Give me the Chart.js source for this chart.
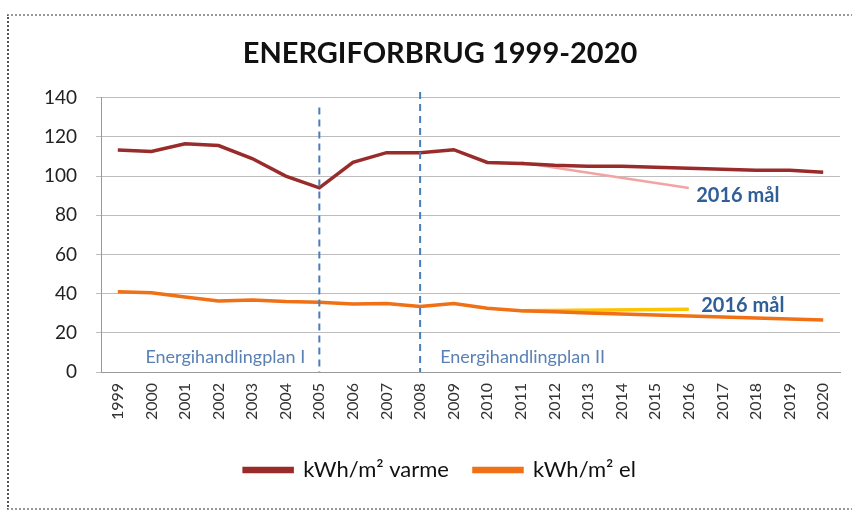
<!DOCTYPE html>
<html>
<head>
<meta charset="utf-8">
<script src="https://cdn.jsdelivr.net/npm/chart.js@4"></script>
<style>
  html, body { margin: 0; padding: 0; background: #fff; }
  #wrap { position: relative; width: 852px; height: 510px; }
  #frame { position: absolute; left: 7px; top: 14px; width: 860px; height: 492px;
           border-left: 2px dotted #555; border-top: 2px dotted #999; border-bottom: 2px dotted #999; }
  canvas { position: absolute; left: 0; top: 0; }
</style>
</head>
<body>
<div id="wrap">
  <div id="frame"></div>
  <canvas id="energyChart" width="852" height="510"></canvas>
</div>
<script>
// Data
const years = ['1999', '2000', '2001', '2002', '2003', '2004', '2005', '2006', '2007', '2008', '2009',
               '2010', '2011', '2012', '2013', '2014', '2015', '2016', '2017', '2018', '2019', '2020'];
const varme = [113.3, 112.6, 116.5, 115.6, 109, 100, 94, 107, 112, 112, 113.5,
               107, 106.5, 105.5, 105, 105, 104.5, 104, 103.5, 103, 103, 102];
const el = [41, 40.5, 38.3, 36.3, 36.8, 36, 35.6, 34.7, 35, 33.4, 35,
            32.5, 31.3, 30.7, 30.1, 29.6, 29.1, 28.6, 28.1, 27.6, 27.1, 26.6];
// 2016 targets (only start and end points are drawn)
const varmeGoal = [null, null, null, null, null, null, null, null, null, null, null,
                   null, 107, null, null, null, null, 94, null, null, null, null];
const elGoal = [null, null, null, null, null, null, null, null, null, null, null,
                null, 31.3, null, null, null, null, 32, null, null, null, null];
const yTicks = [0, 20, 40, 60, 80, 100, 120, 140];
const planYears = ['2005', '2008'];

const FONT = 'Lato, "Open Sans", sans-serif';

// Dashed plan markers and text notes
const notesPlugin = {
  id: 'notes',
  afterDatasetsDraw(chart) {
    const { ctx, scales: { x, y } } = chart;
    ctx.save();
    ctx.strokeStyle = '#4a7ebb';
    ctx.lineWidth = 2;
    ctx.setLineDash([7, 5]);
    const tops = [135, 143];
    planYears.forEach((yr, i) => {
      const px = x.getPixelForValue(years.indexOf(yr));
      ctx.beginPath();
      ctx.moveTo(px, y.getPixelForValue(tops[i]));
      ctx.lineTo(px, y.getPixelForValue(0));
      ctx.stroke();
    });
    ctx.setLineDash([]);

    ctx.fillStyle = '#5a80b4';
    ctx.font = '18px ' + FONT;
    ctx.textAlign = 'center';
    ctx.textBaseline = 'middle';
    ctx.fillText('Energihandlingplan I', x.getPixelForValue(3.2), y.getPixelForValue(7.7));
    ctx.fillText('Energihandlingplan II', x.getPixelForValue(12.05), y.getPixelForValue(7.7));

    ctx.fillStyle = '#2f5f96';
    ctx.font = 'bold 20px ' + FONT;
    ctx.textAlign = 'left';
    ctx.fillText('2016 mål', x.getPixelForValue(17.22), y.getPixelForValue(90));
    ctx.fillText('2016 mål', x.getPixelForValue(17.37), y.getPixelForValue(34));
    ctx.restore();
  }
};

new Chart(document.getElementById('energyChart'), {
  type: 'line',
  data: {
    labels: years,
    datasets: [
      { label: 'kWh/m² varme', data: varme, borderColor: '#9a2b2b', backgroundColor: '#9a2b2b',
        borderWidth: 3.5, pointRadius: 0, tension: 0, order: 1 },
      { label: 'kWh/m² el', data: el, borderColor: '#f07016', backgroundColor: '#f07016',
        borderWidth: 3.5, pointRadius: 0, tension: 0, order: 1 },
      { label: 'varme mål', data: varmeGoal, borderColor: '#f2a4a4', borderWidth: 2.5,
        pointRadius: 0, spanGaps: true, order: 2 },
      { label: 'el mål', data: elGoal, borderColor: '#ffc200', borderWidth: 3.5,
        pointRadius: 0, spanGaps: true, order: 2 }
    ]
  },
  options: {
    responsive: false,
    animation: false,
    layout: { padding: { left: 40, right: 12, top: 0, bottom: 19 } },
    plugins: {
      title: {
        display: true,
        text: 'ENERGIFORBRUG 1999-2020',
        color: '#111',
        font: { family: FONT, size: 29, weight: 'bold' },
        padding: { top: 36, bottom: 27 }
      },
      legend: {
        position: 'bottom',
        labels: {
          filter: (item) => item.datasetIndex < 2,
          color: '#111',
          font: { family: FONT, size: 22 },
          boxWidth: 48,
          boxHeight: 3,
          padding: 25
        }
      },
      tooltip: { enabled: false }
    },
    scales: {
      x: {
        offset: true,
        grid: { display: false, drawTicks: true, tickLength: 5, color: '#999' },
        border: { color: '#999' },
        ticks: { color: '#333', font: { family: FONT, size: 16 }, minRotation: 90, maxRotation: 90, padding: 6 },
        afterFit: (s) => { s.height = 62; }
      },
      y: {
        min: 0,
        max: 140,
        afterBuildTicks: (s) => { s.ticks = yTicks.map(v => ({ value: v })); },
        grid: { color: '#bdbdbd', tickLength: 5 },
        border: { color: '#999' },
        ticks: { color: '#222', font: { family: FONT, size: 19 }, padding: 19 },
        afterFit: (s) => { s.width = 61; }
      }
    }
  },
  plugins: [notesPlugin]
});
</script>
</body>
</html>
